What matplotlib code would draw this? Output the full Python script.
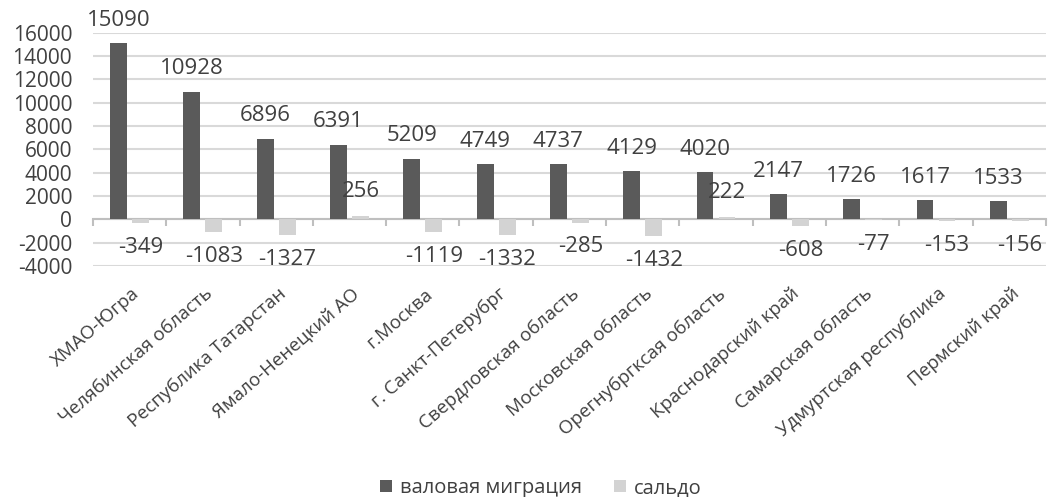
import numpy as np
import matplotlib
matplotlib.use("Agg")
import matplotlib.pyplot as plt
from matplotlib.transforms import blended_transform_factory

regions = ['ХМАО-Югра', 'Челябинская область', 'Республика Татарстан',
           'Ямало-Ненецкий АО', 'г.Москва', 'г. Санкт-Петерубрг',
           'Свердловская область', 'Московская область', 'Орегнубргксая область',
           'Краснодарский край', 'Самарская область', 'Удмуртская республика',
           'Пермский край']
gross = [15090, 10928, 6896, 6391, 5209, 4749, 4737, 4129, 4020, 2147, 1726, 1617, 1533]
saldo = [-349, -1083, -1327, 256, -1119, -1332, -285, -1432, 222, -608, -77, -153, -156]
yticks = list(range(-4000, 16001, 2000))

plt.rcParams['font.family'] = ['Open Sans', 'DejaVu Sans']
txt = '#404040'

fig = plt.figure(figsize=(10.48, 4.97), dpi=100)
ax = fig.add_axes([0.0887, 0.465, 0.9093, 0.469])

x = np.arange(len(regions))
w = 0.23
ax.bar(x - 0.15, gross, w, color='#5a5a5a', zorder=3, label='валовая миграция')
ax.bar(x + 0.15, saldo, w, color='#d3d3d3', zorder=3, label='сальдо')

# value labels, excel-style offsets
for xi, v in zip(x, gross):
    ax.annotate(str(v), (xi - 0.15, v), xytext=(0, 16.5), textcoords='offset points',
                ha='center', va='center', fontsize=16, color=txt, zorder=5)
for xi, v in zip(x, saldo):
    off = 17.5 if v > 0 else -17.5
    ax.annotate(str(v), (xi + 0.15, v), xytext=(0, off), textcoords='offset points',
                ha='center', va='center', fontsize=16, color=txt, zorder=5)

ax.set_xlim(-0.5, len(regions) - 0.5)
ax.set_ylim(-4000, 16000)
ax.set_yticks(yticks)
ax.set_yticklabels([str(t) for t in yticks], fontsize=15, color=txt)
ax.tick_params(axis='y', length=0, pad=15)
ax.grid(axis='y', color='#d9d9d9', linewidth=1.5, zorder=0)

for s in ['top', 'right', 'left']:
    ax.spines[s].set_visible(False)
ax.spines['bottom'].set_position(('data', 0))
ax.spines['bottom'].set_color('#bfbfbf')
ax.spines['bottom'].set_linewidth(1.5)
ax.set_xticks(np.arange(len(regions) + 1) - 0.5)
ax.set_xticklabels([])
ax.tick_params(axis='x', direction='out', length=5, color='#bfbfbf', width=1.5)

tr = blended_transform_factory(ax.transData, ax.transAxes)
for xi, name in zip(x, regions):
    ax.text(xi + 0.1, -0.11, name, transform=tr, rotation=41, rotation_mode='anchor',
            ha='right', va='center', fontsize=13.5, color=txt)

leg = fig.legend(loc='center', bbox_to_anchor=(0.516, 0.018), ncol=2, frameon=False,
                 fontsize=14.5, handlelength=0.6, handleheight=0.6, columnspacing=1.6,
                 handletextpad=0.4)
for t in leg.get_texts():
    t.set_color(txt)

fig.savefig('out.png', dpi=100, facecolor='white')
